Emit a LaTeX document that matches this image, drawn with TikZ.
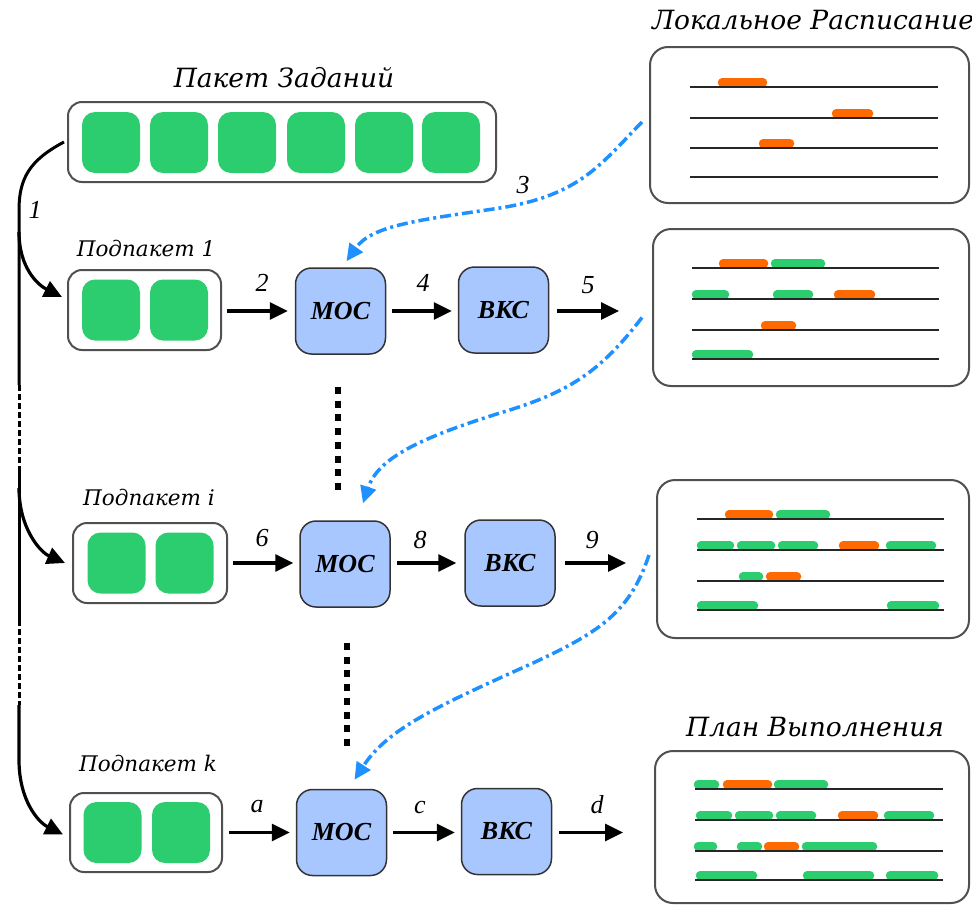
\documentclass[tikz,border=0pt]{standalone}
\usepackage{fontspec}
\setmainfont{Liberation Serif}
\newfontfamily\titlefont{DejaVu Serif}
\usetikzlibrary{arrows.meta}

\definecolor{jobgreen}{RGB}{44,205,110}
\definecolor{joborange}{RGB}{255,106,0}
\definecolor{procblue}{RGB}{168,199,255}
\definecolor{linkblue}{RGB}{30,144,255}
\definecolor{framegray}{RGB}{80,80,80}

% one task on a timeline: from x1 to x2, resting on the line at y
\newcommand\taskslot[4]{\draw[line width=8.5pt, line cap=round, #4] (#1+4,#3-4.5) -- (#2-4,#3-4.5);}
\newcommand\timeline[3]{\draw[line width=2pt, black!85] (#1,#3) -- (#2,#3);}

\begin{document}
\begin{tikzpicture}[x=1pt, y=-1pt,
  holder/.style={draw=framegray, line width=2pt, rounded corners=14pt, fill=white, inner sep=0pt},
  job/.style={fill=jobgreen, rounded corners=13pt, minimum width=58pt, minimum height=61pt, inner sep=0pt},
  proc/.style={draw=black!80, line width=1.5pt, fill=procblue, rounded corners=16pt,
    minimum width=90pt, minimum height=86pt, inner sep=0pt,
    font=\fontsize{26}{28}\selectfont\bfseries\itshape},
  sched/.style={draw=framegray, line width=2pt, rounded corners=18pt, fill=white, inner sep=0pt},
  flow/.style={line width=3.2pt, -{Triangle[length=18pt,width=17pt]}},
  trunk/.style={line width=3pt},
  trunkgap/.style={line width=3pt, dash pattern=on 6pt off 3pt},
  feed/.style={linkblue, line width=3.5pt, dash pattern=on 11pt off 4pt on 3pt off 4pt,
    -{Triangle[length=17pt,width=16pt]}},
  ellipsis/.style={line width=6.5pt, dash pattern=on 7pt off 6.7pt},
  tag/.style={font=\fontsize{26}{28}\selectfont\itshape, inner sep=0pt},
  bigtitle/.style={font=\titlefont\itshape\fontsize{26.5}{30}\selectfont, inner sep=0pt},
  subtitle/.style={font=\titlefont\itshape\fontsize{21.5}{24}\selectfont, inner sep=0pt}]

\useasboundingbox (0,0) rectangle (972,905);

% ---------- job package ----------
\node[bigtitle] (pkgtitle) at (284,78) {Пакет Заданий};
\node[holder, minimum width=428pt, minimum height=80pt] (pkg) at (282,142) {};
\foreach \x [count=\i] in {111,179,247,316,384,451}
  \node[job] (pj\i) at (\x,142.5) {};

% ---------- sub-packages ----------
\node[subtitle] (sub1title) at (146,248) {Подпакет 1};
\node[holder, minimum width=153pt, minimum height=80pt] (sub1) at (144.5,310) {};
\node[job] (s1a) at (111,310) {};
\node[job] (s1b) at (179,310) {};

\node[subtitle] (subititle) at (149,497) {Подпакет i};
\node[holder, minimum width=154pt, minimum height=80pt] (subi) at (150,563) {};
\node[job] (sia) at (116.5,563) {};
\node[job] (sib) at (184.5,563) {};

\node[subtitle] (subktitle) at (148,763) {Подпакет k};
\node[holder, minimum width=152pt, minimum height=79pt] (subk) at (146,832.5) {};
\node[job] (ska) at (112.5,832.5) {};
\node[job] (skb) at (181,832.5) {};

% ---------- processing blocks ----------
\node[proc] (moc1) at (340.5,311) {МОС};
\node[proc] (bkc1) at (503.5,310) {ВКС};
\node[proc] (moci) at (345,564) {МОС};
\node[proc] (bkci) at (510,563) {ВКС};
\node[proc] (mock) at (341.5,832.5) {МОС};
\node[proc] (bkck) at (506.5,831.5) {ВКС};

% ---------- schedules ----------
\node[bigtitle] (localtitle) at (813,20) {Локальное Расписание};
\node[bigtitle] (plantitle) at (815,727) {План Выполнения};
\node[sched, minimum width=319pt, minimum height=156pt] (sch0) at (809.5,125) {};
\node[sched, minimum width=316pt, minimum height=157pt] (sch1) at (811,307.5) {};
\node[sched, minimum width=312pt, minimum height=158pt] (sch2) at (813,559) {};
\node[sched, minimum width=314pt, minimum height=152pt] (sch3) at (812,827) {};

% local schedule
\taskslot{718}{767}{87}{joborange}
\taskslot{832}{873}{118}{joborange}
\taskslot{759}{794}{148}{joborange}
\foreach \y in {87,118,148,177} {\timeline{690}{938}{\y}}

% after the first sub-package
\taskslot{719}{768}{268}{joborange}
\taskslot{771}{825}{268}{jobgreen}
\taskslot{692}{729}{299}{jobgreen}
\taskslot{773}{813}{299}{jobgreen}
\taskslot{834}{875}{299}{joborange}
\taskslot{761}{796}{330}{joborange}
\taskslot{692}{753}{359}{jobgreen}
\foreach \y in {268,299,330,359} {\timeline{692}{939}{\y}}

% after sub-package i
\taskslot{725}{773}{519}{joborange}
\taskslot{776}{830}{519}{jobgreen}
\taskslot{697}{734}{550}{jobgreen}
\taskslot{737}{775}{550}{jobgreen}
\taskslot{778}{818}{550}{jobgreen}
\taskslot{839}{879}{550}{joborange}
\taskslot{886}{936}{550}{jobgreen}
\taskslot{739}{763}{581}{jobgreen}
\taskslot{766}{801}{581}{joborange}
\taskslot{697}{758}{610}{jobgreen}
\taskslot{887}{939}{610}{jobgreen}
\foreach \y in {519,550,581,610} {\timeline{697}{944}{\y}}

% execution plan
\taskslot{694}{719}{789}{jobgreen}
\taskslot{723}{772}{789}{joborange}
\taskslot{774}{828}{789}{jobgreen}
\taskslot{696}{732}{820}{jobgreen}
\taskslot{735}{773}{820}{jobgreen}
\taskslot{776}{816}{820}{jobgreen}
\taskslot{838}{878}{820}{joborange}
\taskslot{884}{934}{820}{jobgreen}
\taskslot{694}{717}{851}{jobgreen}
\taskslot{737}{762}{851}{jobgreen}
\taskslot{764}{799}{851}{joborange}
\taskslot{802}{877}{851}{jobgreen}
\taskslot{696}{757}{880}{jobgreen}
\taskslot{803}{874}{880}{jobgreen}
\taskslot{886}{938}{880}{jobgreen}
\foreach \y in {789,820,851,880} {\timeline{695}{943}{\y}}

% ---------- distribution of the package ----------
\coordinate (t0) at (19,210);
\coordinate (t1) at (19,385);
\coordinate (t2) at (19,470);
\coordinate (t3) at (19,620);
\coordinate (t4) at (19,705);
\coordinate (t5) at (19,760);
\coordinate (b1) at (19,232);
\coordinate (bi) at (19,488);

\draw[trunk] ([xshift=-3pt]pkg.west) .. controls (30,160) and (19,178) .. (t0) -- (t1);
\draw[trunkgap] (t1) -- (t2);
\draw[trunk] (t2) -- (t3);
\draw[trunkgap] (t3) -- (t4);
\draw[flow] (t4) -- (t5) .. controls (19,800) and (38,822) .. ([xshift=-6pt,yshift=-2pt]subk.west);
\draw[flow] (b1) .. controls (19,268) and (38,285) .. ([xshift=-5pt,yshift=13pt]sub1.west);
\draw[flow] (bi) .. controls (19,528) and (40,552) .. ([xshift=-7pt]subi.west);
\node[tag] (l1) at (35,210) {1};

% ---------- pipelines ----------
\coordinate (out1) at (619,311);
\coordinate (outi) at (626,563);
\coordinate (outk) at (623,832.5);

\draw[flow] ([xshift=5pt]sub1.east |- moc1) -- ([xshift=-7pt]moc1.west);
\draw[flow] ([xshift=6pt]moc1.east) -- ([xshift=-6pt]bkc1.west |- moc1);
\draw[flow] ([xshift=8pt]bkc1.east |- moc1) -- (out1);
\node[tag] (l2) at (262,283) {2};
\node[tag] (l4) at (423,283) {4};
\node[tag] (l5) at (588,285) {5};

\draw[flow] ([xshift=5pt]subi.east) -- ([xshift=-6pt]moci.west |- subi);
\draw[flow] ([xshift=6pt]moci.east |- subi) -- ([xshift=-8pt]bkci.west |- subi);
\draw[flow] ([xshift=9pt]bkci.east |- subi) -- (outi);
\node[tag] (l6) at (262,538) {6};
\node[tag] (l8) at (420,540) {8};
\node[tag] (l9) at (592,540) {9};

\draw[flow] ([xshift=6pt]subk.east) -- ([xshift=-6pt]mock.west);
\draw[flow] ([xshift=6pt]mock.east) -- ([xshift=-6pt]bkck.west |- mock);
\draw[flow] ([xshift=7pt]bkck.east |- mock) -- (outk);
\node[tag] (la) at (257,807) {a};
\node[tag] (lc) at (420,807) {c};
\node[tag] (ld) at (597,805) {d};

% ---------- omitted rows ----------
\draw[ellipsis] (338,387) -- (338,492);
\draw[ellipsis] (347,643) -- (347,749);

% ---------- schedule feedback ----------
\draw[feed] ([xshift=-7pt,yshift=3pt]sch0.west) .. controls (600,165) and (580,195) .. (500,208)
  .. controls (420,220) and (372,225) .. ([xshift=6pt,yshift=6pt]moc1.north);
\node[tag] (l3) at (523,185) {3};
\draw[feed] ([xshift=-10pt,yshift=-10pt]sch1.west) .. controls (600,372) and (570,392) .. (500,413)
  .. controls (420,438) and (378,458) .. ([xshift=18pt,yshift=17pt]moci.north);
\draw[feed] ([xshift=-7pt,yshift=4pt]sch2.west) .. controls (630,612) and (600,632) .. (533,663)
  .. controls (440,705) and (388,728) .. ([xshift=13pt,yshift=9pt]mock.north);

\end{tikzpicture}
\end{document}
